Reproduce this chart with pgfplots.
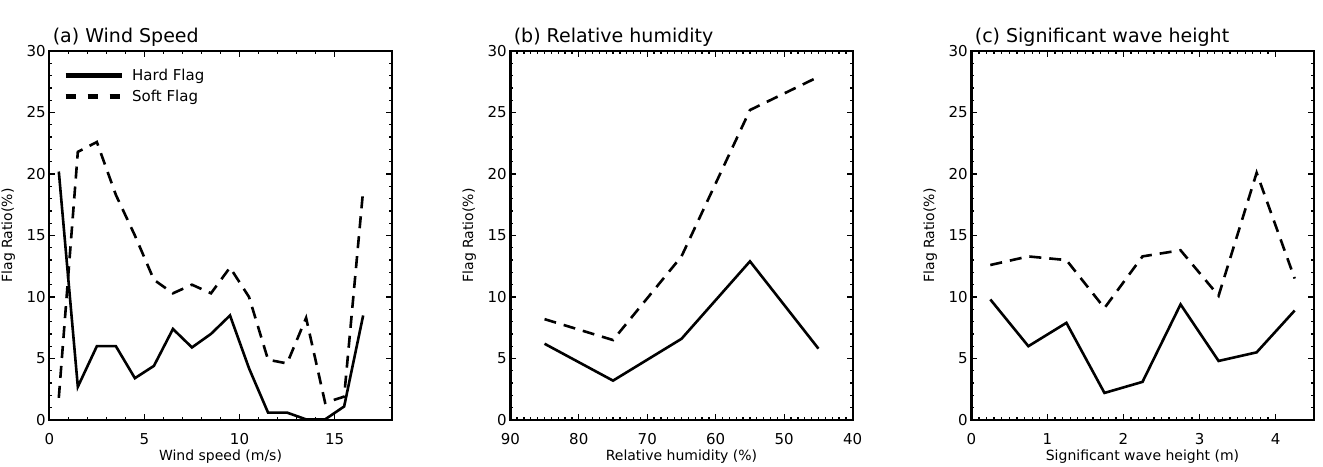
\documentclass[border=0pt]{standalone}
\usepackage{pgfplots}
\pgfplotsset{compat=1.18}
\usepackage{pgfplotstable}
\usepackage{fontspec}
\setmainfont{DejaVu Sans}

% Flag ratio (%) by wind speed bin
\pgfplotstableread{
x    hard  soft
0.5  20.2  1.8
1.5  2.7   21.8
2.5  6.0   22.6
3.5  6.0   18.3
4.5  3.4   15.0
5.5  4.4   11.4
6.5  7.4   10.3
7.5  5.9   11.0
8.5  7.0   10.3
9.5  8.5   12.4
10.5 4.2   10.0
11.5 0.6   4.9
12.5 0.6   4.6
13.5 0.05  8.3
14.5 0.05  1.4
15.5 1.1   1.9
16.5 8.5   18.7
}\windtab

% Flag ratio (%) by relative humidity bin
\pgfplotstableread{
x   hard  soft
85  6.2   8.2
75  3.2   6.5
65  6.6   13.3
55  12.9  25.2
45  5.8   27.9
}\rhtab

% Flag ratio (%) by significant wave height bin
\pgfplotstableread{
x     hard  soft
0.25  9.8   12.6
0.75  6.0   13.3
1.25  7.9   13.0
1.75  2.2   9.1
2.25  3.1   13.3
2.75  9.4   13.8
3.25  4.8   10.1
3.75  5.5   20.1
4.25  8.9   11.5
}\swhtab

\pgfplotsset{
  flagpanel/.style={
    scale only axis,
    width=342.4pt, height=369pt,
    anchor=south west,
    ymin=0, ymax=30,
    ytick={0,5,...,30},
    minor y tick num=4,
    tick align=inside,
    xtick pos=both, ytick pos=both,
    major tick length=6pt,
    minor tick length=3pt,
    every tick/.style={black, line width=1.3pt},
    % heavy frame round the plotting area
    after end axis/.code={
      \draw[black, line width=2.4pt, line join=miter]
        (rel axis cs:0,0) rectangle (rel axis cs:1,1);
    },
    /pgf/number format/assume math mode=true,
    ticklabel style={font=\fontsize{15}{17}\selectfont},
    xticklabel style={yshift=-10pt},
    label style={font=\fontsize{14}{16}\selectfont},
    xlabel style={at={(axis description cs:0.5,-0.098)}, anchor=center},
    ylabel style={at={(axis description cs:-0.12,0.5)}, anchor=center},
    ylabel={Flag Ratio(\%)},
    title style={at={(axis description cs:0,1)}, anchor=base west, yshift=2pt,
                 font=\fontsize{19}{21}\selectfont},
    hard/.style={black, line width=2.6pt},
    soft/.style={black, line width=2.6pt, dash pattern=on 12pt off 8pt},
  },
}

\begin{document}
\begin{tikzpicture}
\useasboundingbox (0pt,0pt) rectangle (1323pt,466pt);

\begin{axis}[flagpanel, at={(49.3pt,46pt)},
  xmin=0, xmax=18, xtick={0,5,10,15}, minor x tick num=4,
  xlabel={Wind speed (m/s)},
  title={(a) Wind Speed},
  legend cell align=left,
  legend image code/.code={\draw[#1] (0pt,0pt) -- (56pt,0pt);},
  legend style={draw=none, fill=none, at={(axis description cs:0.04,0.958)},
    anchor=north west, font=\fontsize{15}{17}\selectfont,
    inner sep=0pt, row sep=4.5pt,
    nodes={inner sep=2pt}},
  /tikz/every odd column/.style={column sep=6pt},
]
\addplot[hard, legend image post style={line width=5pt}]
  table[x=x, y=hard] {\windtab};
\addlegendentry{Hard Flag}
\addplot[soft, legend image post style={line width=5pt, dash pattern=on 10pt off 12pt}]
  table[x=x, y=soft] {\windtab};
\addlegendentry{Soft Flag}
\end{axis}

\begin{axis}[flagpanel, at={(510.3pt,46pt)},
  xmin=40, xmax=90, x dir=reverse, xtick={40,50,...,90}, minor x tick num=9,
  xlabel={Relative humidity (\%)},
  title={(b) Relative humidity},
]
\addplot[hard] table[x=x, y=hard] {\rhtab};
\addplot[soft] table[x=x, y=soft] {\rhtab};
\end{axis}

\begin{axis}[flagpanel, at={(971.3pt,46pt)},
  xmin=0, xmax=4.5, xtick={0,1,2,3,4}, minor x tick num=9,
  xlabel={Significant wave height (m)},
  title={(c) Significant wave height},
]
\addplot[hard] table[x=x, y=hard] {\swhtab};
\addplot[soft] table[x=x, y=soft] {\swhtab};
\end{axis}
\end{tikzpicture}
\end{document}
